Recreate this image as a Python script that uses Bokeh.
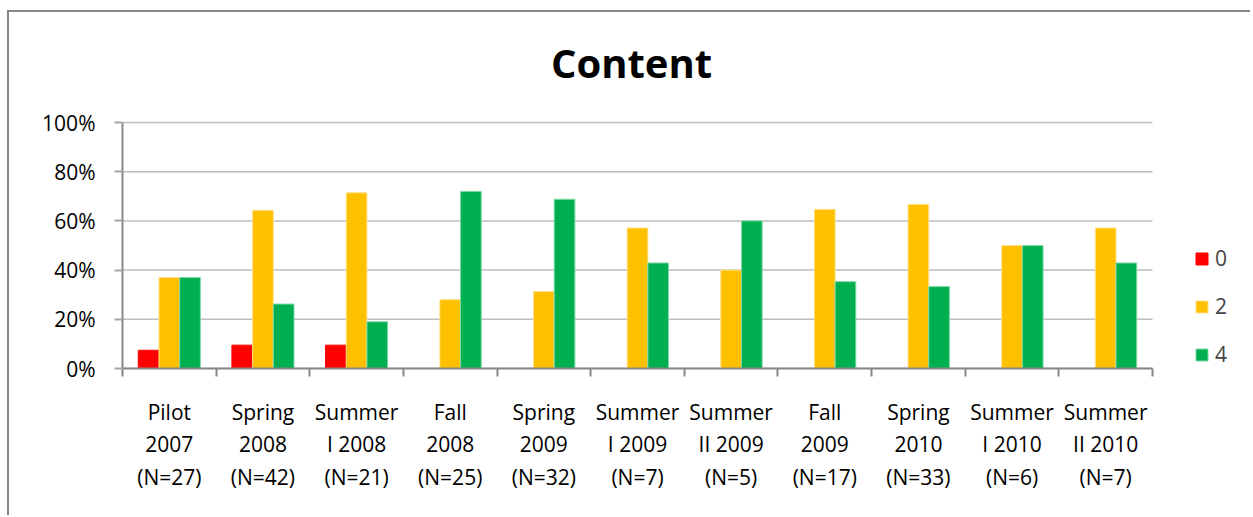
from bokeh.plotting import figure
from bokeh.models import (Range1d, FixedTicker, Legend, LegendItem, Label, ColumnDataSource)
from bokeh.embed import file_html
from bokeh.resources import INLINE

# ---- data ----
categories = ["Pilot\n2007\n(N=27)", "Spring\n2008\n(N=42)", "Summer\nI 2008\n(N=21)",
              "Fall\n2008\n(N=25)", "Spring\n2009\n(N=32)", "Summer\nI 2009\n(N=7)",
              "Summer\nII 2009\n(N=5)", "Fall\n2009\n(N=17)", "Spring\n2010\n(N=33)",
              "Summer\nI 2010\n(N=6)", "Summer\nII 2010\n(N=7)"]
series_names = ["0", "2", "4"]
score_0 = [7.4, 9.5, 9.5, 0, 0, 0, 0, 0, 0, 0, 0]
score_2 = [37.0, 64.3, 71.4, 28.0, 31.3, 57.1, 40.0, 64.7, 66.7, 50.0, 57.1]
score_4 = [37.0, 26.2, 19.0, 72.0, 68.8, 42.9, 60.0, 35.3, 33.3, 50.0, 42.9]
y_ticks = [0, 20, 40, 60, 80, 100]
y_tick_labels = ["0%", "20%", "40%", "60%", "80%", "100%"]
title_text = "Content"

colors = ["#FF0000", "#FFC000", "#00B050"]
edge_colors = ["#FF0000", "#FFE08A", "#7FD9A6"]
FONT = "Open Sans"

n = len(categories)
centers = [i + 0.5 for i in range(n)]
bounds = [float(i) for i in range(n + 1)]
bw = 0.221

# layout (pixels)
W, H = 1243, 505
BL, BR, BT, BB = 113, 5, 0, 149
plot_w, plot_h = 1030, 246          # size of the category/value area
frame_w, frame_h = W - BL - BR, H - BT - BB
x_end = n * frame_w / plot_w        # frame also holds legend at right
y_end = 100 * frame_h / plot_h      # and the title above

p = figure(width=W, height=H, output_backend="svg", toolbar_location=None,
           x_range=Range1d(0, x_end), y_range=Range1d(0, y_end),
           min_border_left=BL, min_border_right=BR,
           min_border_top=BT, min_border_bottom=BB)
p.styles = {"border-left": "2px solid #878787", "border-top": "2px solid #878787",
            "margin-top": "10px", "margin-left": "7px"}
p.outline_line_color = None
p.background_fill_color = "white"
p.border_fill_color = "white"

# horizontal gridlines over the category area only
p.segment(x0=[0] * len(y_ticks), x1=[n] * len(y_ticks), y0=y_ticks, y1=y_ticks,
          line_color="#BEBEBE", line_width=1.5, level="underlay")

renderers = []
for k, (vals, off) in enumerate(zip([score_0, score_2, score_4], [-bw, 0.0, bw])):
    src = ColumnDataSource(dict(x=[c + off for c in centers], top=vals))
    r = p.vbar(x="x", top="top", bottom=0, width=bw, source=src,
               fill_color=colors[k], line_color=edge_colors[k], line_width=1)
    renderers.append(r)

# y axis
p.yaxis.bounds = (0, 100)
p.yaxis.ticker = FixedTicker(ticks=y_ticks)
p.yaxis.major_label_overrides = {t: l for t, l in zip(y_ticks, y_tick_labels)}
p.yaxis.major_label_text_font = FONT
p.yaxis.major_label_text_font_size = "21px"
p.yaxis.major_label_text_color = "#000000"
p.yaxis.axis_line_color = "#868686"
p.yaxis.axis_line_width = 2
p.yaxis.major_tick_line_color = "#A6A6A6"
p.yaxis.major_tick_line_width = 2
p.yaxis.major_tick_out = 8
p.yaxis.major_tick_in = 0
p.yaxis.minor_tick_line_color = None
p.yaxis.major_label_standoff = 19

# x axis: labels at group centers, tick marks at group boundaries (minor ticks)
p.xaxis.bounds = (0, n)
p.xaxis.ticker = FixedTicker(ticks=centers, minor_ticks=bounds)
p.xaxis.major_label_overrides = {c: l for c, l in zip(centers, categories)}
p.xaxis.major_label_text_font = FONT
p.xaxis.major_label_text_font_size = "21px"
p.xaxis.major_label_text_color = "#000000"
p.xaxis.major_label_text_line_height = 1.17
p.xaxis.major_label_standoff = 21
p.xaxis.axis_line_color = "#868686"
p.xaxis.axis_line_width = 2
p.xaxis.major_tick_line_color = None
p.xaxis.major_tick_out = 0
p.xaxis.major_tick_in = 0
p.xaxis.minor_tick_line_color = "#868686"
p.xaxis.minor_tick_line_width = 2
p.xaxis.minor_tick_out = 8
p.xaxis.minor_tick_in = 0

p.xgrid.grid_line_color = None
p.ygrid.grid_line_color = None

# title
p.add_layout(Label(x=n / 2, y=100, x_offset=-6, y_offset=60, text=title_text,
                   text_font=FONT, text_font_size="40px", text_font_style="bold",
                   text_align="center", text_baseline="middle", text_color="#000000"))

legend = Legend(items=[LegendItem(label=s, renderers=[r]) for s, r in zip(series_names, renderers)],
                location=(1072, 0), padding=0, margin=0, spacing=20,
                glyph_width=15, glyph_height=15, label_height=21, label_standoff=6,
                label_text_font=FONT, label_text_font_size="21px",
                background_fill_alpha=0, border_line_color=None)
p.add_layout(legend, "center")

open("out.html", "w").write(file_html(p, INLINE))
